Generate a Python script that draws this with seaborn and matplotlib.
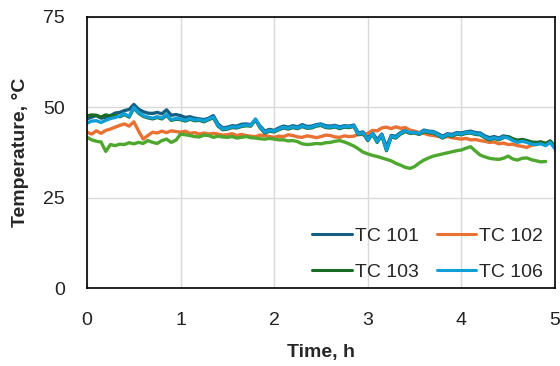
import matplotlib
matplotlib.use("Agg")
import matplotlib.pyplot as plt
import seaborn as sns
import pandas as pd

# Logged every 3 minutes (0.05 h)
STEP_H = 0.05

tc101 = [46.8, 47.3, 47.7, 47.0, 47.2, 47.7, 48.4, 48.6, 49.1, 49.4,
         50.8, 49.5, 48.8, 48.4, 48.3, 48.6, 48.2, 49.3, 47.8, 48.0,
         47.7, 47.2, 47.4, 47.0, 46.8, 46.6, 47.0, 47.7, 45.4, 44.3,
         44.5, 44.9, 44.8, 45.3, 45.4, 45.2, 46.5, 44.8, 43.4, 43.9,
         43.6, 44.3, 44.8, 44.5, 44.9, 44.6, 45.2, 44.7, 44.8, 45.2,
         45.4, 44.9, 44.8, 45.0, 44.6, 44.9, 44.8, 45.1, 42.9, 43.2,
         41.5, 43.0, 41.0, 42.6, 39.0, 42.2, 42.0, 43.0, 43.7, 43.2,
         43.3, 42.9, 43.7, 43.4, 43.3, 42.7, 42.0, 42.7, 42.5, 43.0,
         42.9, 43.2, 43.4, 43.0, 42.9, 42.1, 41.6, 41.9, 41.5, 42.1,
         41.8, 41.2, 40.7, 41.0, 40.7, 40.2, 40.1, 40.3, 39.8, 40.6,
         39.0]

tc102 = [43.1, 42.6, 43.5, 42.8, 43.6, 44.0, 44.5, 45.0, 45.4, 44.8,
         46.0, 43.5, 41.2, 42.2, 43.1, 42.9, 43.4, 43.0, 43.5, 43.3,
         43.1, 43.4, 42.8, 43.0, 42.6, 42.9, 42.6, 42.8, 42.6, 42.3,
         42.4, 42.7, 42.2, 42.5, 42.2, 42.0, 41.9, 42.3, 42.2, 41.9,
         41.7, 42.0, 41.9, 42.4, 42.2, 41.8, 41.7, 42.1, 41.9, 41.6,
         41.9, 42.3, 42.2, 41.8, 41.7, 42.1, 41.9, 42.0, 42.6, 42.4,
         42.8, 43.6, 43.5, 44.3, 44.5, 44.1, 44.6, 44.2, 44.4, 43.7,
         43.4, 43.0, 42.8, 42.4, 42.2, 42.0, 41.7, 41.9, 41.6, 41.4,
         41.2, 41.4, 41.0, 41.1, 40.8, 40.6, 40.3, 40.4, 39.9, 40.1,
         39.7, 39.8, 39.4, 39.2, 38.9, 39.5, 39.7, 40.4, 40.0]

tc103 = [47.6, 47.9, 47.8, 47.3, 47.9, 47.6, 47.8, 47.4, 48.0, 47.3,
         49.8, 48.4, 47.5, 47.1, 46.8, 47.2, 46.8, 47.8, 46.4, 46.7,
         46.6, 46.2, 46.7, 46.3, 46.4, 46.0, 46.6, 47.1, 44.8, 43.8,
         44.0, 44.4, 44.3, 44.7, 44.9, 44.8, 46.6, 44.3, 42.9, 43.4,
         43.2, 43.8, 44.3, 44.0, 44.4, 44.1, 44.7, 44.2, 44.3, 44.8,
         45.0, 44.4, 44.3, 44.6, 44.1, 44.5, 44.4, 44.7, 42.4, 42.8,
         40.8, 42.6, 40.3, 42.2, 38.0, 41.8, 41.5, 42.6, 43.3, 42.8,
         42.9, 42.5, 43.3, 43.0, 42.9, 42.2, 41.5, 42.3, 42.0, 42.6,
         42.4, 42.8, 42.9, 42.5, 42.4, 41.6, 41.0, 41.4, 41.0, 41.6,
         41.9, 41.3, 40.9, 41.1, 40.8, 40.4, 40.3, 40.4, 40.0, 40.7,
         39.2]

tc105 = [41.7, 41.0, 40.6, 40.4, 37.8, 39.7, 39.4, 39.8, 39.7, 40.2,
         39.9, 40.3, 40.0, 40.8, 40.3, 40.0, 40.8, 41.2, 40.3, 40.9,
         42.6, 42.4, 42.2, 41.9, 41.8, 42.3, 42.2, 41.7, 42.0, 41.8,
         41.7, 41.9, 41.5, 41.7, 41.9, 41.6, 41.5, 41.3, 41.2, 41.4,
         41.2, 41.0, 41.0, 40.7, 40.8, 40.5, 39.9, 39.7, 39.8, 40.0,
         39.9, 40.2, 40.3, 40.6, 40.8, 40.4, 39.9, 39.3, 38.5, 37.6,
         37.1, 36.7, 36.4, 36.0, 35.6, 35.2, 34.5, 34.0, 33.4, 33.1,
         33.6, 34.6, 35.4, 36.0, 36.5, 36.8, 37.1, 37.4, 37.7, 38.0,
         38.2, 38.7, 39.1, 37.9, 36.8, 36.3, 35.9, 35.7, 35.6, 35.9,
         36.5, 35.7, 35.4, 35.9, 36.0, 35.5, 35.2, 34.9, 35.0]

tc106 = [45.6, 46.2, 46.3, 45.8, 46.4, 46.9, 47.2, 47.6, 48.2, 47.5,
         50.0, 48.6, 47.7, 47.3, 47.0, 47.4, 47.0, 48.0, 46.6, 46.9,
         46.8, 46.4, 46.9, 46.5, 46.6, 46.2, 46.8, 47.3, 45.0, 44.0,
         44.2, 44.6, 44.5, 44.9, 45.1, 45.0, 46.8, 44.5, 43.1, 43.6,
         43.4, 44.0, 44.5, 44.2, 44.6, 44.3, 44.9, 44.4, 44.5, 45.0,
         45.2, 44.6, 44.5, 44.8, 44.3, 44.7, 44.6, 44.9, 42.6, 43.0,
         41.0, 42.8, 40.5, 42.4, 38.2, 42.0, 41.7, 42.8, 43.5, 43.0,
         43.1, 42.7, 43.5, 43.2, 43.1, 42.4, 41.7, 42.5, 42.2, 42.8,
         42.6, 43.0, 43.1, 42.7, 42.6, 41.8, 41.2, 41.6, 41.2, 41.8,
         41.5, 40.8, 40.3, 40.6, 40.3, 39.8, 39.7, 39.9, 39.4, 40.3,
         38.5]

series = {"TC 101": tc101, "TC 102": tc102, "TC 103": tc103,
          "TC 105": tc105, "TC 106": tc106}
colors = {"TC 101": "#156082", "TC 102": "#E97132", "TC 103": "#196B24",
          "TC 105": "#4EA72E", "TC 106": "#0F9ED5"}
# two columns, filled row by row: TC 101 | TC 102 / TC 103 | TC 106
legend_names = ["TC 101", "TC 103", "TC 102", "TC 106"]

x_ticks = [0, 1, 2, 3, 4, 5]
y_ticks = [0, 25, 50, 75]

frames = []
for name, vals in series.items():
    frames.append(pd.DataFrame({
        "Time": [round(i * STEP_H, 2) for i in range(len(vals))],
        "Temp": vals,
        "Sensor": name,
    }))
df = pd.concat(frames, ignore_index=True)

sns.set_theme(style="white")
plt.rcParams["font.family"] = ["Liberation Sans", "DejaVu Sans"]

fig = plt.figure(figsize=(5.6, 3.66), dpi=100)
ax = fig.add_axes([0.1554, 0.2131, 0.8356, 0.7405])

sns.lineplot(data=df, x="Time", y="Temp", hue="Sensor",
             hue_order=list(series.keys()), palette=colors,
             linewidth=2.4, ax=ax, legend=False, estimator=None, sort=False)

ax.set_xlim(0, 5)
ax.set_ylim(0, 75)
ax.set_xticks(x_ticks)
ax.set_yticks(y_ticks)
ax.grid(True, color="#d9d9d9", linewidth=1.0)
ax.set_axisbelow(True)
for sp in ax.spines.values():
    sp.set_color("black")
    sp.set_linewidth(1.2)
ax.tick_params(axis="both", direction="out", length=5, width=1.2,
               color="black", labelsize=14, labelcolor="#222222")
ax.tick_params(axis="y", pad=11)
ax.tick_params(axis="x", pad=12)
ax.set_xlabel("Time, h", fontsize=14, fontweight="bold", labelpad=11)
ax.set_ylabel("Temperature, °C", fontsize=14, fontweight="bold", labelpad=10)

handles = [plt.Line2D([], [], color=colors[n], linewidth=2.2) for n in legend_names]
ax.legend(handles, legend_names, ncol=2, loc="lower right",
          bbox_to_anchor=(0.975, 0.025), frameon=False, fontsize=14,
          handlelength=2.05, handletextpad=0.15, columnspacing=0.9,
          labelspacing=0.95, borderaxespad=0, borderpad=0)

fig.savefig("out.png", dpi=100)
